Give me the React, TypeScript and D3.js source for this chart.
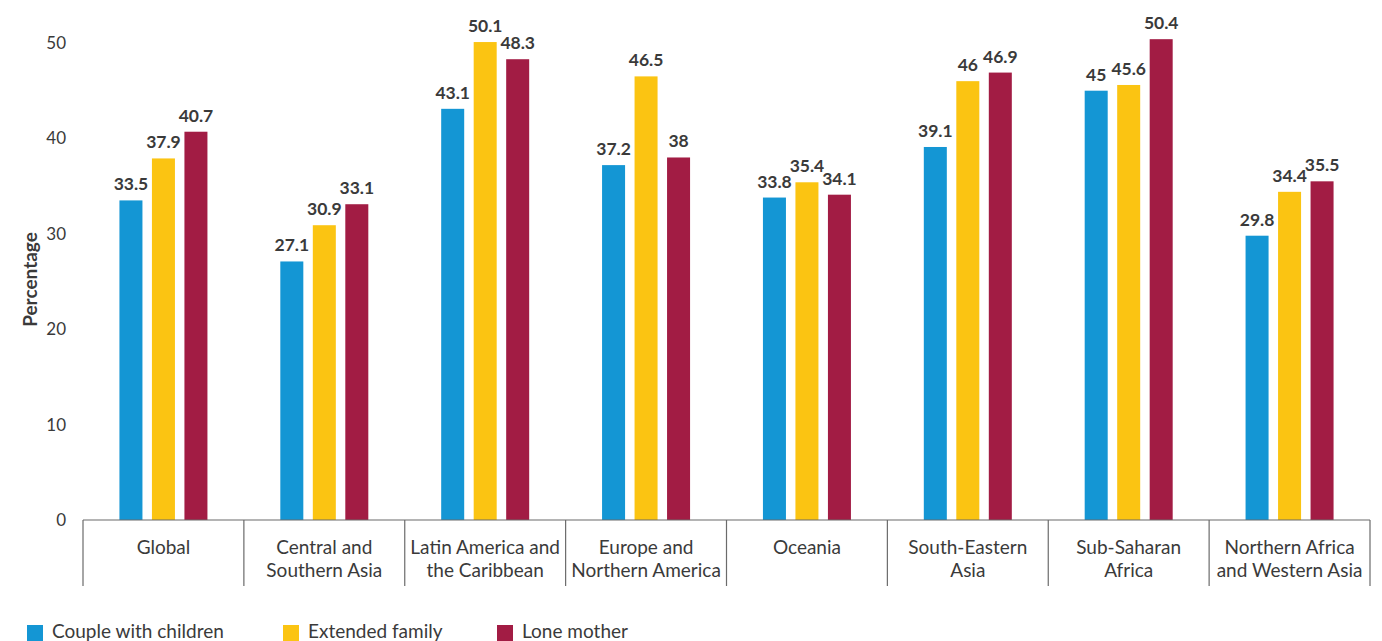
import React from "react";
import * as d3 from "d3";

const categories: string[][] = [
  ["Global"],
  ["Central and", "Southern Asia"],
  ["Latin America and", "the Caribbean"],
  ["Europe and", "Northern America"],
  ["Oceania"],
  ["South-Eastern", "Asia"],
  ["Sub-Saharan", "Africa"],
  ["Northern Africa", "and Western Asia"],
];
const seriesNames = ["Couple with children", "Extended family", "Lone mother"];
const coupleWithChildren = [33.5, 27.1, 43.1, 37.2, 33.8, 39.1, 45, 29.8];
const extendedFamily = [37.9, 30.9, 50.1, 46.5, 35.4, 46, 45.6, 34.4];
const loneMother = [40.7, 33.1, 48.3, 38, 34.1, 46.9, 50.4, 35.5];
const yTicks = [0, 10, 20, 30, 40, 50];
const colors = ["#1496D4", "#FBC412", "#A21C44"];

const W = 1382;
const H = 641;
const FONT = "Lato, 'Open Sans', sans-serif";

export default function App() {
  const series = [coupleWithChildren, extendedFamily, loneMother];
  const keys = categories.map((c) => c.join(" "));
  const x0 = d3.scaleBand<string>().domain(keys).range([83, 1370]).padding(0);
  const groupW = 88;
  const x1 = d3
    .scaleBand<number>()
    .domain([0, 1, 2])
    .range([0, groupW])
    .paddingInner(0.292)
    .paddingOuter(0);
  const y = d3.scaleLinear().domain([0, 50]).range([520, 43]);
  const textColor = "#3a3a3a";
  const axisColor = "#6b6b6b";
  const boundaries = keys.map((k) => x0(k)!).concat([x0.range()[1]]);

  return (
    <svg
      width={W}
      height={H}
      style={{ position: "absolute", left: 0, top: 0, background: "#fff" }}
      fontFamily={FONT}
    >
      {yTicks.map((t) => (
        <text
          key={t}
          x={66}
          y={y(t)}
          dy="0.35em"
          textAnchor="end"
          fontSize={17}
          fill={textColor}
        >
          {t}
        </text>
      ))}
      <text
        transform={`translate(37,${(y(0) + y(50)) / 2 - 2}) rotate(-90)`}
        textAnchor="middle"
        fontSize={19}
        fontWeight={700}
        fill={textColor}
      >
        Percentage
      </text>

      {keys.map((k, i) => {
        const gx = x0(k)! + (x0.bandwidth() - groupW) / 2;
        return (
          <g key={k} transform={`translate(${gx},0)`}>
            {series.map((s, j) => (
              <g key={j}>
                <rect
                  x={x1(j)}
                  y={y(s[i])}
                  width={x1.bandwidth()}
                  height={y(0) - y(s[i])}
                  fill={colors[j]}
                />
                <text
                  x={x1(j)! + x1.bandwidth() / 2}
                  y={y(s[i]) - 10}
                  textAnchor="middle"
                  fontSize={17.5}
                  fontWeight={700}
                  fill={textColor}
                >
                  {s[i]}
                </text>
              </g>
            ))}
          </g>
        );
      })}

      <line x1={83} x2={1370} y1={y(0)} y2={y(0)} stroke={axisColor} strokeWidth={1.2} />
      {boundaries.map((b, i) => (
        <line key={i} x1={b} x2={b} y1={y(0)} y2={586} stroke={axisColor} strokeWidth={1.2} />
      ))}
      {categories.map((lines, i) => {
        const cx = x0(keys[i])! + x0.bandwidth() / 2;
        return (
          <text key={i} textAnchor="middle" fontSize={19} fill={textColor}>
            {lines.map((l, j) => (
              <tspan key={j} x={cx} y={554 + j * 23}>
                {l}
              </tspan>
            ))}
          </text>
        );
      })}

      {seriesNames.map((n, i) => {
        const lx = [27, 283, 497][i];
        return (
          <g key={n}>
            <rect x={lx} y={625} width={16} height={16} fill={colors[i]} />
            <text x={lx + 25} y={638} fontSize={19} fill={textColor}>
              {n}
            </text>
          </g>
        );
      })}
    </svg>
  );
}
